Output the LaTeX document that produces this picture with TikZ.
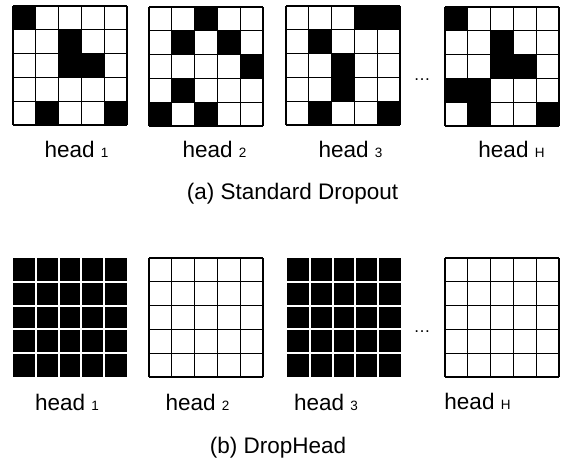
\documentclass[tikz,border=0pt]{standalone}
\usepackage{fontspec}
\setmainfont{Liberation Sans}
\begin{document}
\begin{tikzpicture}[x=1pt,y=-1pt,
  lbl/.style={anchor=base, inner sep=0pt, font=\fontsize{22.5}{26}\selectfont},
  dotlbl/.style={anchor=base, inner sep=0pt, font=\fontsize{17}{19}\selectfont},
  gridline/.style={line width=1.1pt, draw=black},
  gapline/.style={line width=2pt, draw=white}]
\useasboundingbox (0,0) rectangle (562,461);
\def\cw{22.8}\def\ch{23.8}
\newcommand\sparsegrid[3]{%
  \begin{scope}[shift={(#1,#2)}]
    \foreach \c/\r in {#3} \fill[black] (\c*\cw,\r*\ch) rectangle ++(\cw,\ch);
    \foreach \i in {0,...,5} {
      \draw[gridline] (\i*\cw,0) -- (\i*\cw,5*\ch);
      \draw[gridline] (0,\i*\ch) -- (5*\cw,\i*\ch);
    }
  \end{scope}}
\newcommand\fullgrid[2]{%
  \begin{scope}[shift={(#1,#2)}]
    \fill[black] (0,0) rectangle (5*\cw,5*\ch);
    \foreach \i in {1,...,4} {
      \draw[gapline] (\i*\cw,0) -- (\i*\cw,5*\ch);
      \draw[gapline] (0,\i*\ch) -- (5*\cw,\i*\ch);
    }
  \end{scope}}
\newcommand\emptygrid[2]{%
  \begin{scope}[shift={(#1,#2)}]
    \foreach \i in {0,...,5} {
      \draw[gridline] (\i*\cw,0) -- (\i*\cw,5*\ch);
      \draw[gridline] (0,\i*\ch) -- (5*\cw,\i*\ch);
    }
  \end{scope}}
% (a) standard dropout
\sparsegrid{13}{6}{0/0,2/1,2/2,3/2,1/4,4/4}
\sparsegrid{149}{7}{2/0,1/1,3/1,4/2,1/3,0/4,2/4}
\sparsegrid{286}{6}{3/0,4/0,1/1,2/2,2/3,1/4,4/4}
\sparsegrid{445}{7}{0/0,2/1,2/2,3/2,0/3,1/3,1/4,4/4}
\node[dotlbl] (dotsa) at (422,80) {…};
\node[lbl] (a1) at (76.5,157) {head {\fontsize{13.5}{15}\selectfont 1}};
\node[lbl] (a2) at (214.5,157) {head {\fontsize{13.5}{15}\selectfont 2}};
\node[lbl] (a3) at (350.5,157) {head {\fontsize{13.5}{15}\selectfont 3}};
\node[lbl] (aH) at (511.5,157) {head {\fontsize{13.5}{15}\selectfont H}};
\node[lbl] (capa) at (292.5,199.5) {(a) Standard Dropout};
% (b) drophead
\fullgrid{13}{258}
\emptygrid{149}{258}
\fullgrid{287}{258}
\emptygrid{445}{258}
\node[dotlbl] (dotsb) at (422,332) {…};
\node[lbl] (b1) at (67,410.5) {head {\fontsize{13.5}{15}\selectfont 1}};
\node[lbl] (b2) at (197.5,410.5) {head {\fontsize{13.5}{15}\selectfont 2}};
\node[lbl] (b3) at (326,410.5) {head {\fontsize{13.5}{15}\selectfont 3}};
\node[lbl] (bH) at (477.5,409) {head {\fontsize{13.5}{15}\selectfont H}};
\node[lbl] (capb) at (278,453) {(b) DropHead};
\end{tikzpicture}
\end{document}
